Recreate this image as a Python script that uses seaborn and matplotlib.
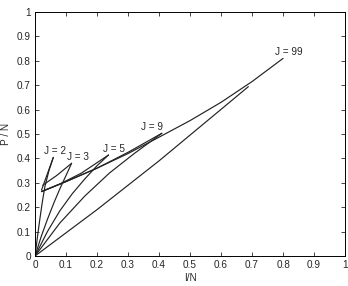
import numpy as np
import pandas as pd
import matplotlib
matplotlib.use("Agg")
import matplotlib.pyplot as plt
import seaborn as sns

# lower branches (from origin up to the tip)
j2_lower_x = [0.0, 0.008, 0.016, 0.024, 0.032, 0.045, 0.059]
j2_lower_y = [0.0, 0.08, 0.155, 0.225, 0.285, 0.35, 0.404]
j3_lower_x = [0.0, 0.02, 0.04, 0.06, 0.08, 0.10, 0.118]
j3_lower_y = [0.0, 0.08, 0.15, 0.215, 0.275, 0.33, 0.38]
j5_lower_x = [0.0, 0.04, 0.08, 0.12, 0.16, 0.20, 0.237]
j5_lower_y = [0.0, 0.10, 0.185, 0.255, 0.315, 0.37, 0.414]
j9_lower_x = [0.0, 0.08, 0.16, 0.24, 0.32, 0.409]
j9_lower_y = [0.0, 0.135, 0.245, 0.34, 0.42, 0.503]
j99_lower_x = [0.0, 0.20, 0.40, 0.688]
j99_lower_y = [0.0, 0.19, 0.39, 0.694]

# upper branches (from the cusp near I/N = 0.02 up to the tip)
j2_upper_x = [0.021, 0.059]
j2_upper_y = [0.27, 0.404]
j3_upper_x = [0.025, 0.07, 0.118]
j3_upper_y = [0.29, 0.33, 0.38]
j5_upper_x = [0.021, 0.08, 0.15, 0.237]
j5_upper_y = [0.264, 0.295, 0.34, 0.414]
j9_upper_x = [0.021, 0.10, 0.20, 0.30, 0.409]
j9_upper_y = [0.264, 0.305, 0.36, 0.425, 0.503]
j99_upper_x = [0.021, 0.10, 0.20, 0.30, 0.40, 0.50, 0.60, 0.70, 0.80]
j99_upper_y = [0.264, 0.305, 0.36, 0.42, 0.487, 0.555, 0.63, 0.715, 0.81]

labels = ["J = 2", "J = 3", "J = 5", "J = 9", "J = 99"]
label_x = [0.0635, 0.14, 0.254, 0.376, 0.817]
label_y = [0.431, 0.404, 0.438, 0.527, 0.837]

ticks = [0, 0.1, 0.2, 0.3, 0.4, 0.5, 0.6, 0.7, 0.8, 0.9, 1]
tick_labels = ["0", "0.1", "0.2", "0.3", "0.4", "0.5", "0.6", "0.7", "0.8", "0.9", "1"]

branches = [
    ("J2 lower", j2_lower_x, j2_lower_y), ("J2 upper", j2_upper_x, j2_upper_y),
    ("J3 lower", j3_lower_x, j3_lower_y), ("J3 upper", j3_upper_x, j3_upper_y),
    ("J5 lower", j5_lower_x, j5_lower_y), ("J5 upper", j5_upper_x, j5_upper_y),
    ("J9 lower", j9_lower_x, j9_lower_y), ("J9 upper", j9_upper_x, j9_upper_y),
    ("J99 lower", j99_lower_x, j99_lower_y), ("J99 upper", j99_upper_x, j99_upper_y),
]
df = pd.concat(
    [pd.DataFrame({"branch": name, "x": bx, "y": by}) for name, bx, by in branches],
    ignore_index=True,
)

sns.set_style("ticks")
plt.rcParams["font.family"] = ["Liberation Sans", "DejaVu Sans"]

fig = plt.figure(figsize=(3.48, 2.86), dpi=100)
ax = fig.add_axes([0.1006, 0.1049, 0.891, 0.853])

sns.lineplot(data=df, x="x", y="y", units="branch", estimator=None, sort=False,
             color="#222222", linewidth=0.85, ax=ax)

for txt, lx, ly in zip(labels, label_x, label_y):
    ax.text(lx, ly, txt, fontsize=7.2, ha="center", va="center")

ax.set_xlim(0, 1)
ax.set_ylim(0, 1)
ax.set_xticks(ticks)
ax.set_xticklabels(tick_labels)
ax.set_yticks(ticks)
ax.set_yticklabels(tick_labels)
ax.tick_params(direction="in", length=3, width=0.6, labelsize=7.2,
               top=True, right=True, pad=3)
for s in ax.spines.values():
    s.set_linewidth(0.7)
    s.set_color("black")
ax.set_xlabel("I/N", fontsize=7.2, labelpad=2)
ax.set_ylabel("P / N", fontsize=7.2, labelpad=4)

fig.savefig("out.png", dpi=100)
